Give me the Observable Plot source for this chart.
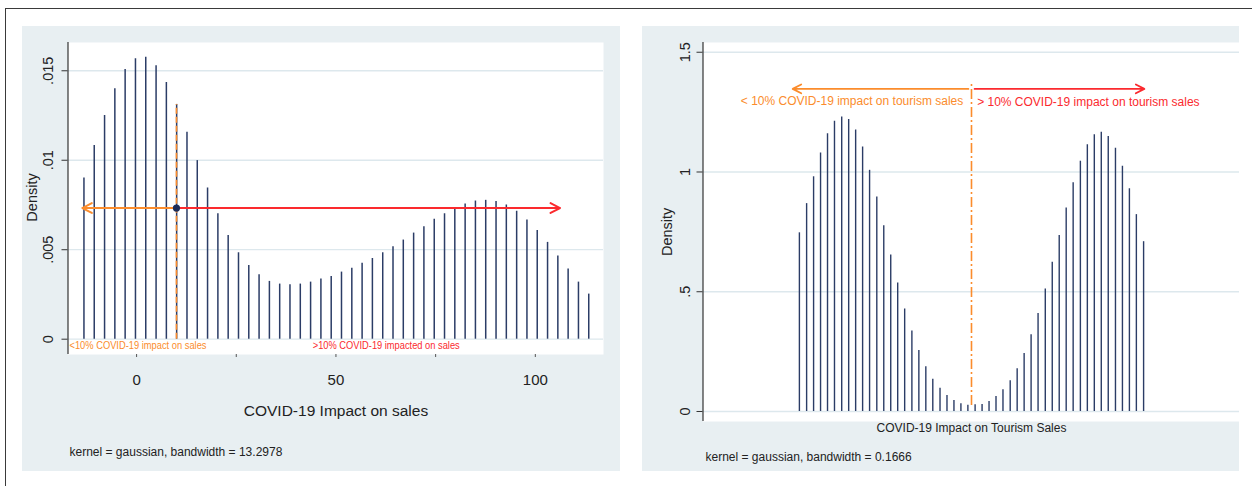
<!DOCTYPE html>
<html><head><meta charset="utf-8">
<script src="https://cdn.jsdelivr.net/npm/d3@7"></script>
<script src="https://cdn.jsdelivr.net/npm/@observablehq/plot@0.6"></script>
<style>
body{margin:0;background:#fff;}
#wrap{position:relative;width:1252px;height:486px;overflow:hidden;font-family:"Liberation Sans",Arial,sans-serif;}
#frame{position:absolute;left:5px;top:8px;width:1260px;height:490px;border-top:1.5px solid #3a3a3a;border-left:1.5px solid #3a3a3a;}
.panel{position:absolute;}
</style></head><body>
<div id="wrap"><div id="frame"></div>
<div id="p1" class="panel" style="left:22px;top:26px"></div>
<div id="p2" class="panel" style="left:642px;top:26px"></div>
</div>
<script>
// ---------- Left panel: COVID-19 impact on sales (kdensity, 50 points) ----------
const salesX = [-13.20,-10.62,-8.03,-5.45,-2.87,-0.28,2.30,4.89,7.47,10.05,12.64,15.22,17.80,20.39,22.97,25.56,28.14,30.72,33.31,35.89,38.47,41.06,43.64,46.23,48.81,51.39,53.98,56.56,59.14,61.73,64.31,66.89,69.48,72.06,74.65,77.23,79.81,82.40,84.98,87.56,90.15,92.73,95.32,97.90,100.48,103.07,105.65,108.23,110.82,113.40];
const salesDensity = [0.00901,0.01082,0.01250,0.01399,0.01507,0.01567,0.01575,0.01528,0.01435,0.01312,0.01157,0.00998,0.00845,0.00701,0.00580,0.00483,0.00412,0.00360,0.00323,0.00308,0.00304,0.00308,0.00319,0.00336,0.00351,0.00375,0.00397,0.00424,0.00451,0.00483,0.00517,0.00554,0.00593,0.00629,0.00670,0.00701,0.00730,0.00756,0.00772,0.00776,0.00769,0.00750,0.00715,0.00666,0.00608,0.00541,0.00465,0.00392,0.00319,0.00252];
const salesYTicks = [0, 0.005, 0.01, 0.015];
const salesYTickLabels = ["0", ".005", ".01", ".015"];
const salesXTicks = [0, 25, 50, 75, 100];
const salesXTickLabels = ["0", "", "50", "", "100"];
const salesCut = 10;             // 10% threshold
const salesCutDensity = 0.01312; // spike height at threshold
const salesArrowY = 0.00733;
const salesArrowLeft = -13.6;
const salesArrowRight = 106.2;
const salesTexts = ["<10% COVID-19 impact on sales", ">10% COVID-19 impacted on sales"];
const salesTextX = [-17.2, 43.8];
const salesXTitle = "COVID-19 Impact on sales";
const salesNote = "kernel = gaussian, bandwidth = 13.2978";

// ---------- Right panel: COVID-19 impact on tourism sales ----------
const tourX = [-0.167,-0.139,-0.112,-0.085,-0.058,-0.031,-0.003,0.024,0.051,0.078,0.105,0.133,0.160,0.187,0.214,0.241,0.269,0.296,0.323,0.350,0.378,0.405,0.432,0.459,0.486,0.514,0.541,0.568,0.595,0.622,0.650,0.677,0.704,0.731,0.758,0.786,0.813,0.840,0.867,0.894,0.922,0.949,0.976,1.003,1.030,1.058,1.085,1.112,1.139,1.167];
const tourDensity = [0.746,0.868,0.980,1.079,1.160,1.212,1.230,1.219,1.175,1.104,1.007,0.896,0.776,0.653,0.536,0.428,0.336,0.255,0.187,0.135,0.097,0.067,0.046,0.032,0.026,0.028,0.029,0.042,0.063,0.091,0.128,0.178,0.242,0.320,0.409,0.511,0.623,0.735,0.850,0.955,1.045,1.114,1.155,1.166,1.148,1.099,1.024,0.930,0.822,0.709];
const tourYTicks = [0, 0.5, 1, 1.5];
const tourYTickLabels = ["0", ".5", "1", "1.5"];
const tourCut = 0.5;
const tourCutRange = [0.025, 1.375];
const tourArrowY = 1.347;
const tourArrowLeft = -0.193;
const tourArrowRight = 1.170;
const tourTexts = ["< 10% COVID-19 impact on tourism sales", "> 10% COVID-19 impact on tourism sales"];
const tourTextX = [0.468, 0.522];
const tourTextY = [1.296, 1.290];
const tourXTitle = "COVID-19 Impact on Tourism Sales";
const tourNote = "kernel = gaussian, bandwidth = 0.1666";

const navy = "#2b3c66", orange = "#fb8c2c", red = "#fb2a2e", grid = "#dde8ed", ink = "#222";
const bg = "#e8eff2";
const font = "Liberation Sans, Arial, sans-serif";

const sales = salesX.map((x, i) => ({x, d: salesDensity[i]}));
const tour = tourX.map((x, i) => ({x, d: tourDensity[i]}));

// Left
const x1d = [-17.2, 117.1], y1d = [-0.000855, 0.01658];
const p1 = Plot.plot({
  width: 598, height: 445,
  marginLeft: 45.5, marginRight: 17, marginTop: 16, marginBottom: 117,
  style: {background: bg, fontFamily: font, color: ink, overflow: "visible"},
  x: {domain: x1d},
  y: {domain: y1d},
  marks: [
    Plot.frame({fill: "white", stroke: "none"}),
    Plot.gridY(salesYTicks, {stroke: grid, strokeOpacity: 1, strokeWidth: 1.3}),
    Plot.ruleX(sales, {x: "x", y1: 0, y2: "d", stroke: navy, strokeWidth: 1.5}),
    Plot.ruleX([salesCut], {y1: 0, y2: salesCutDensity, stroke: orange, strokeWidth: 1.6, strokeDasharray: "6,3"}),
    Plot.arrow([0], {x1: salesCut, y1: salesArrowY, x2: salesArrowLeft, y2: salesArrowY, stroke: orange, strokeWidth: 2, headLength: 8, headAngle: 55}),
    Plot.arrow([0], {x1: salesCut, y1: salesArrowY, x2: salesArrowRight, y2: salesArrowY, stroke: red, strokeWidth: 2, headLength: 8, headAngle: 55}),
    Plot.dot([0], {x: salesCut, y: salesArrowY, r: 3.6, fill: "#1c2c58", stroke: "none"}),
    Plot.ruleX([x1d[0]], {y1: y1d[0], y2: y1d[1], stroke: "#333", strokeWidth: 1.2}),
    Plot.axisY(salesYTicks, {tickSize: 6, tickFormat: () => "", stroke: "#333", label: null}),
    Plot.text(salesYTicks, {x: x1d[0], y: d => d, text: (d, i) => salesYTickLabels[i], dx: -19.5, rotate: -90, fontSize: 14.5, fill: ink, textAnchor: "middle"}),
    Plot.text(["Density"], {x: x1d[0], y: 0.00792, text: d => d, dx: -35.5, rotate: -90, fontSize: 14.5, fill: ink}),
    Plot.axisX(salesXTicks, {tickSize: 3, tickPadding: 17, tickFormat: (d, i) => salesXTickLabels[i], fontSize: 15, stroke: "#555", fill: ink, label: null}),
    Plot.text([salesTexts[0]], {x: salesTextX[0], y: 0, dy: 6, text: d => d, textAnchor: "start", dx: 1.5, fontSize: 10.5, fill: orange}),
    Plot.text([salesTexts[1]], {x: salesTextX[1], y: 0, dy: 6, text: d => d, textAnchor: "start", dx: 1.5, fontSize: 10.5, fill: red}),
    Plot.text([salesXTitle], {x: 50, y: y1d[0], dy: 57, text: d => d, fontSize: 15.5, fill: ink}),
    Plot.text([salesNote], {x: x1d[0], y: y1d[0], dx: 1.5, dy: 98, text: d => d, textAnchor: "start", fontSize: 12, fill: ink})
  ]
});
// condensed look of the small annotation labels
d3.select(p1).selectAll("text").each(function () {
  const t = this.textContent;
  if (t === salesTexts[0]) d3.select(this).attr("textLength", 137).attr("lengthAdjust", "spacingAndGlyphs");
  if (t === salesTexts[1]) d3.select(this).attr("textLength", 147).attr("lengthAdjust", "spacingAndGlyphs");
});
document.getElementById("p1").append(p1);

// Right
const x2d = [-0.5406, 1.5387], y2d = [-0.0418, 1.5407];
const p2 = Plot.plot({
  width: 597, height: 445,
  marginLeft: 60.5, marginRight: 0, marginTop: 16, marginBottom: 50,
  style: {background: bg, fontFamily: font, color: ink, overflow: "visible"},
  x: {domain: x2d, axis: null},
  y: {domain: y2d},
  marks: [
    Plot.frame({fill: "white", stroke: "none"}),
    Plot.gridY(tourYTicks, {stroke: grid, strokeOpacity: 1, strokeWidth: 1.3}),
    Plot.ruleX(tour, {x: "x", y1: 0, y2: "d", stroke: navy, strokeWidth: 1.4}),
    Plot.ruleX([tourCut], {y1: tourCutRange[0], y2: tourCutRange[1], stroke: orange, strokeWidth: 1.6, strokeDasharray: "10,3,2,3"}),
    Plot.arrow([0], {x1: tourCut - 0.012, y1: tourArrowY, x2: tourArrowLeft, y2: tourArrowY, stroke: orange, strokeWidth: 1.8, headLength: 8, headAngle: 55}),
    Plot.arrow([0], {x1: tourCut + 0.012, y1: tourArrowY, x2: tourArrowRight, y2: tourArrowY, stroke: red, strokeWidth: 1.8, headLength: 8, headAngle: 55}),
    Plot.ruleX([x2d[0]], {y1: y2d[0], y2: y2d[1], stroke: "#333", strokeWidth: 1.2}),
    Plot.axisY(tourYTicks, {tickSize: 6, tickFormat: () => "", stroke: "#333", label: null}),
    Plot.text(tourYTicks, {x: x2d[0], y: d => d, text: (d, i) => tourYTickLabels[i], dx: -18, rotate: -90, fontSize: 14.5, fill: ink, textAnchor: "middle"}),
    Plot.text(["Density"], {x: x2d[0], y: 0.75, text: d => d, dx: -35.5, rotate: -90, fontSize: 14.5, fill: ink}),
    Plot.text([tourTexts[0]], {x: tourTextX[0], y: tourTextY[0], text: d => d, textAnchor: "end", fontSize: 12, fill: orange}),
    Plot.text([tourTexts[1]], {x: tourTextX[1], y: tourTextY[1], text: d => d, textAnchor: "start", fontSize: 12, fill: red}),
    Plot.text([tourXTitle], {x: 0.5, y: y2d[0], dy: 7, text: d => d, fontSize: 12, fill: ink}),
    Plot.text([tourNote], {x: x2d[0], y: y2d[0], dx: 2.5, dy: 36, text: d => d, textAnchor: "start", fontSize: 12, fill: ink})
  ]
});
document.getElementById("p2").append(p2);
</script>
</body></html>
